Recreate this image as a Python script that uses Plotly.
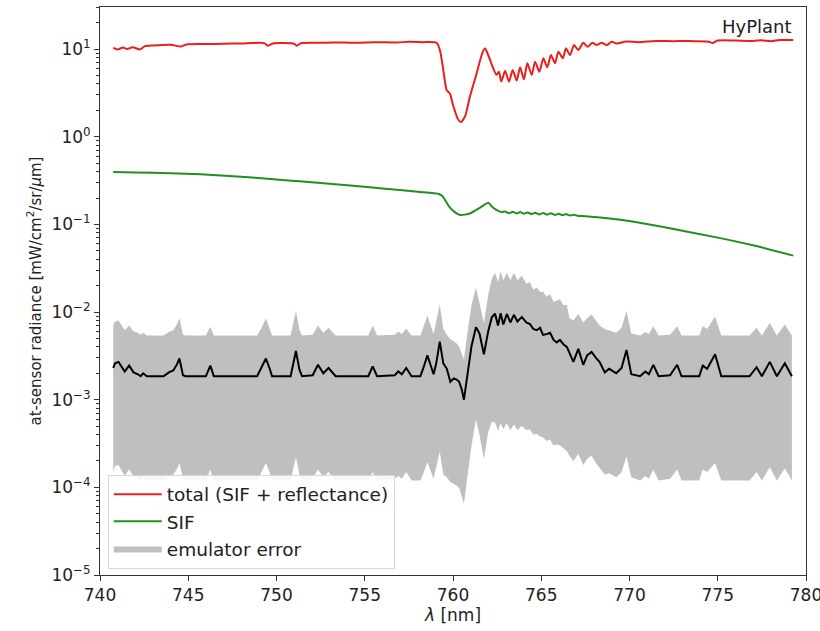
import plotly.graph_objects as go

# ---- total signal (SIF + reflectance) ----
wl_total = [740.75, 741.00, 741.30, 741.55, 741.85, 742.25, 742.55, 743.00, 744.00, 744.60,
            744.90, 746.00, 747.00, 748.00, 749.30, 749.50, 749.80, 751.00, 751.15, 751.40,
            752.50, 753.20, 754.50, 755.50, 756.80, 757.50, 758.30, 759.07, 759.26, 759.45,
            759.64, 759.83, 760.00, 760.30, 760.45, 760.68, 760.96, 761.34, 761.62, 761.81,
            762.00, 762.24, 762.46, 762.60, 762.74, 762.95, 763.17, 763.38, 763.61, 763.80,
            764.02, 764.21, 764.46, 764.65, 764.89, 765.12, 765.34, 765.55, 765.78, 765.97,
            766.22, 766.40, 766.63, 766.86, 767.10, 767.38, 767.63, 767.89, 768.14, 768.42,
            768.71, 768.99, 769.27, 769.80, 770.50, 771.50, 772.50, 773.30, 774.50, 774.70,
            775.00, 776.00, 777.00, 777.50, 778.00, 778.50, 779.28]
total = [10.3, 9.9, 10.4, 10.0, 10.5, 9.9, 10.8, 11.0, 11.2, 10.7,
         11.3, 11.4, 11.5, 11.6, 11.7, 10.9, 11.6, 11.5, 10.9, 11.7,
         11.8, 11.9, 11.8, 12.0, 11.9, 12.1, 12.0, 11.8, 9.7, 5.8,
         3.4, 3.1, 2.3, 1.56, 1.47, 1.70, 2.87, 5.3, 8.5, 10.2,
         8.5, 6.3, 5.1, 5.5, 4.26, 5.66, 4.25, 5.77, 4.37, 6.19,
         4.52, 6.88, 5.07, 7.18, 5.52, 7.84, 6.19, 8.55, 6.88, 9.31,
         7.84, 10.2, 8.55, 11.1, 9.75, 11.8, 10.6, 11.8, 11.1, 11.8,
         11.1, 12.1, 11.6, 12.2, 12.0, 12.4, 12.3, 12.4, 12.1, 11.7,
         12.5, 12.5, 12.4, 12.6, 12.3, 12.7, 12.7]

# ---- SIF ----
wl_sif = [740.75, 742.00, 744.00, 745.70, 748.00, 750.00, 751.30, 754.00, 756.00, 758.00,
          759.20, 759.45, 759.65, 759.83, 760.10, 760.40, 760.96, 761.53, 762.00, 762.20,
          762.46, 762.74, 762.95, 763.17, 763.38, 763.61, 763.80, 764.02, 764.21, 764.46,
          764.65, 764.89, 765.12, 765.34, 765.55, 765.78, 765.97, 766.22, 766.40, 766.63,
          766.86, 767.10, 767.50, 769.50, 770.00, 772.00, 775.00, 777.00, 779.28]
sif = [0.397, 0.392, 0.383, 0.372, 0.350, 0.325, 0.310, 0.280, 0.257, 0.235,
       0.222, 0.205, 0.175, 0.155, 0.138, 0.128, 0.133, 0.155, 0.177, 0.160,
       0.146, 0.138, 0.140, 0.134, 0.139, 0.133, 0.138, 0.132, 0.137, 0.131,
       0.136, 0.130, 0.135, 0.129, 0.134, 0.128, 0.132, 0.127, 0.131, 0.126,
       0.129, 0.125, 0.124, 0.113, 0.109, 0.0925, 0.0706, 0.0577, 0.0440]

# ---- emulator error: median and band ----
wl_err = [740.75, 740.85, 741.05, 741.25, 741.40, 741.65, 741.90, 742.15, 742.30, 742.45,
          742.65, 743.60, 743.90, 744.15, 744.35, 744.50, 744.70, 744.85, 746.00, 746.25,
          746.45, 748.90, 749.15, 749.40, 749.60, 749.75, 750.80, 750.95, 751.10, 751.30,
          751.45, 752.05, 752.35, 752.65, 752.95, 753.35, 755.20, 755.45, 755.70, 756.70,
          756.90, 757.10, 757.35, 757.65, 758.15, 758.35, 758.55, 758.90, 759.05, 759.25,
          759.45, 759.65, 759.85, 760.05, 760.20, 760.35, 760.50, 760.62, 760.85, 761.05,
          761.30, 761.50, 761.75, 762.00, 762.20, 762.38, 762.55, 762.70, 762.85, 763.05,
          763.25, 763.45, 763.65, 763.90, 764.15, 764.36, 764.55, 764.74, 764.93, 765.10,
          765.30, 765.50, 765.70, 765.87, 766.06, 766.25, 766.45, 766.60, 766.82, 767.10,
          767.38, 767.60, 767.85, 768.10, 768.30, 768.60, 768.85, 769.25, 769.55, 769.83,
          770.10, 770.60, 770.90, 771.10, 771.35, 771.65, 772.30, 772.70, 772.95, 773.95,
          774.15, 774.40, 774.85, 775.20, 776.80, 777.20, 777.50, 777.95, 778.35, 778.80,
          779.20]
err_med = [2.3e-3, 2.6e-3, 2.7e-3, 2.3e-3, 2.1e-3, 2.45e-3, 2.05e-3, 1.95e-3, 1.85e-3, 2.0e-3,
           1.85e-3, 1.85e-3, 2.05e-3, 2.15e-3, 2.5e-3, 2.95e-3, 1.9e-3, 1.85e-3, 1.85e-3, 2.45e-3,
           1.85e-3, 1.85e-3, 2.3e-3, 2.95e-3, 2.3e-3, 1.85e-3, 1.85e-3, 2.5e-3, 3.6e-3, 2.2e-3,
           1.85e-3, 1.9e-3, 2.5e-3, 2.0e-3, 2.3e-3, 1.85e-3, 1.85e-3, 2.4e-3, 1.85e-3, 1.9e-3,
           2.1e-3, 1.95e-3, 2.3e-3, 1.85e-3, 1.85e-3, 2.4e-3, 3.2e-3, 1.95e-3, 2.6e-3, 4.6e-3,
           2.6e-3, 2.25e-3, 1.6e-3, 1.75e-3, 1.7e-3, 1.6e-3, 1.3e-3, 1.0e-3, 2.2e-3, 4.1e-3,
           6.7e-3, 5.7e-3, 3.3e-3, 6.1e-3, 8.7e-3, 9.6e-3, 7.0e-3, 9.7e-3, 7.2e-3, 9.5e-3,
           7.6e-3, 9.3e-3, 7.8e-3, 8.8e-3, 7.6e-3, 7.3e-3, 6.4e-3, 6.2e-3, 6.6e-3, 5.5e-3,
           5.6e-3, 5.8e-3, 4.8e-3, 4.5e-3, 4.8e-3, 4.3e-3, 4.0e-3, 3.4e-3, 2.7e-3, 3.8e-3,
           2.5e-3, 3.2e-3, 3.5e-3, 3.0e-3, 2.7e-3, 2.05e-3, 2.25e-3, 2.0e-3, 2.3e-3, 3.7e-3,
           1.95e-3, 1.85e-3, 2.1e-3, 1.95e-3, 2.5e-3, 1.85e-3, 1.9e-3, 2.5e-3, 1.85e-3, 1.85e-3,
           2.45e-3, 2.25e-3, 3.3e-3, 1.85e-3, 1.85e-3, 2.35e-3, 1.85e-3, 2.7e-3, 1.85e-3, 2.6e-3,
           1.85e-3]
err_hi = [7.0e-3, 7.8e-3, 8.0e-3, 6.8e-3, 6.2e-3, 7.0e-3, 6.0e-3, 5.8e-3, 5.5e-3, 5.8e-3,
          5.4e-3, 5.4e-3, 5.9e-3, 6.2e-3, 7.2e-3, 8.5e-3, 5.5e-3, 5.4e-3, 5.4e-3, 6.8e-3,
          5.4e-3, 5.4e-3, 6.6e-3, 8.5e-3, 6.6e-3, 5.4e-3, 5.4e-3, 7.2e-3, 1.03e-2, 6.3e-3,
          5.4e-3, 5.5e-3, 7.0e-3, 5.8e-3, 6.6e-3, 5.4e-3, 5.4e-3, 7.0e-3, 5.4e-3, 5.5e-3,
          6.0e-3, 5.6e-3, 6.5e-3, 5.4e-3, 5.4e-3, 7.0e-3, 9.1e-3, 5.6e-3, 8.0e-3, 1.23e-2,
          6.5e-3, 5.5e-3, 4.9e-3, 4.6e-3, 4.4e-3, 4.0e-3, 3.4e-3, 2.9e-3, 6.5e-3, 1.2e-2,
          1.9e-2, 1.3e-2, 7.5e-3, 1.6e-2, 2.4e-2, 2.8e-2, 2.2e-2, 2.9e-2, 2.3e-2, 2.8e-2,
          2.3e-2, 2.8e-2, 2.3e-2, 2.6e-2, 2.1e-2, 2.2e-2, 1.8e-2, 1.9e-2, 1.7e-2, 1.7e-2,
          1.5e-2, 1.6e-2, 1.3e-2, 1.35e-2, 1.4e-2, 1.2e-2, 1.2e-2, 8.5e-3, 8.0e-3, 9.5e-3,
          7.6e-3, 8.5e-3, 9.4e-3, 8.0e-3, 7.0e-3, 6.4e-3, 6.2e-3, 5.8e-3, 6.6e-3, 1.03e-2,
          5.7e-3, 5.4e-3, 5.9e-3, 5.6e-3, 6.9e-3, 5.4e-3, 5.5e-3, 6.9e-3, 5.4e-3, 5.4e-3,
          6.9e-3, 6.4e-3, 8.9e-3, 5.4e-3, 5.4e-3, 6.6e-3, 5.4e-3, 7.5e-3, 5.4e-3, 7.2e-3,
          5.4e-3]
err_lo = [1.5e-4, 1.75e-4, 1.8e-4, 1.5e-4, 1.35e-4, 1.6e-4, 1.35e-4, 1.3e-4, 1.2e-4, 1.3e-4,
          1.2e-4, 1.2e-4, 1.3e-4, 1.4e-4, 1.6e-4, 1.9e-4, 1.25e-4, 1.2e-4, 1.2e-4, 1.6e-4,
          1.2e-4, 1.2e-4, 1.5e-4, 1.9e-4, 1.5e-4, 1.2e-4, 1.2e-4, 1.6e-4, 2.2e-4, 1.4e-4,
          1.2e-4, 1.25e-4, 1.6e-4, 1.3e-4, 1.5e-4, 1.2e-4, 1.2e-4, 1.5e-4, 1.2e-4, 1.25e-4,
          1.35e-4, 1.25e-4, 1.5e-4, 1.2e-4, 1.2e-4, 1.5e-4, 1.95e-4, 1.25e-4, 1.7e-4, 2.55e-4,
          1.4e-4, 1.3e-4, 1.15e-4, 1.1e-4, 1.05e-4, 9.8e-5, 8.0e-5, 6.5e-5, 1.5e-4, 3.0e-4,
          6.0e-4, 4.0e-4, 2.1e-4, 4.3e-4, 5.6e-4, 5.5e-4, 4.4e-4, 5.4e-4, 4.6e-4, 5.4e-4,
          4.5e-4, 5.2e-4, 4.5e-4, 5.0e-4, 4.5e-4, 4.6e-4, 4.0e-4, 4.1e-4, 3.8e-4, 3.7e-4,
          3.4e-4, 3.5e-4, 3.0e-4, 3.1e-4, 3.0e-4, 2.8e-4, 2.6e-4, 2.3e-4, 2.0e-4, 2.4e-4,
          1.8e-4, 2.1e-4, 2.3e-4, 1.9e-4, 1.7e-4, 1.4e-4, 1.45e-4, 1.3e-4, 1.5e-4, 2.25e-4,
          1.3e-4, 1.2e-4, 1.35e-4, 1.25e-4, 1.6e-4, 1.2e-4, 1.25e-4, 1.6e-4, 1.2e-4, 1.2e-4,
          1.6e-4, 1.5e-4, 1.9e-4, 1.2e-4, 1.2e-4, 1.5e-4, 1.2e-4, 1.7e-4, 1.2e-4, 1.65e-4,
          1.2e-4]

x_ticks = [740, 745, 750, 755, 760, 765, 770, 775, 780]
y_ticks = [1e-5, 1e-4, 1e-3, 1e-2, 1e-1, 1e0, 1e1]
y_ticktext = ["10<sup>\u22125</sup>", "10<sup>\u22124</sup>", "10<sup>\u22123</sup>",
              "10<sup>\u22122</sup>", "10<sup>\u22121</sup>", "10<sup>0</sup>", "10<sup>1</sup>"]

FONT = "DejaVu Sans"
AX = "#333333"

fig = go.Figure()

# grey band: lower edge, then upper edge filled down to it
fig.add_trace(go.Scatter(x=wl_err, y=err_lo, mode="lines", line=dict(width=0, color="#bfbfbf"),
                         showlegend=False, hoverinfo="skip"))
fig.add_trace(go.Scatter(x=wl_err, y=err_hi, mode="lines", line=dict(width=0, color="#bfbfbf"),
                         fill="tonexty", fillcolor="#bfbfbf", name="emulator error",
                         legendrank=3, legendgroup="c"))
fig.add_trace(go.Scatter(x=wl_err, y=err_med, mode="lines", line=dict(width=2, color="black"),
                         showlegend=False))
fig.add_trace(go.Scatter(x=wl_total, y=total, mode="lines",
                         line=dict(width=2, color="#ee1c1c", shape="spline", smoothing=0.6),
                         name="total (SIF + reflectance)", legendrank=1, legendgroup="a"))
fig.add_trace(go.Scatter(x=wl_sif, y=sif, mode="lines",
                         line=dict(width=2, color="#1f901f", shape="spline", smoothing=0.6),
                         name="SIF", legendrank=2, legendgroup="b"))

fig.update_layout(
    width=820, height=631,
    margin=dict(l=100, r=14, t=7, b=56),
    paper_bgcolor="white", plot_bgcolor="white",
    font=dict(family=FONT, size=15, color="#222222"),
    showlegend=True,
    legend=dict(x=0.011, y=0.011, xanchor="left", yanchor="bottom",
                bgcolor="rgba(255,255,255,0.85)", bordercolor="#d8d8d8", borderwidth=1,
                font=dict(size=18.5), traceorder="grouped", tracegroupgap=0, itemwidth=48),
    annotations=[dict(text="HyPlant", xref="paper", yref="paper", x=0.983, y=0.988,
                      xanchor="right", yanchor="top", showarrow=False,
                      font=dict(size=18, color="#222222"))],
)

fig.update_xaxes(range=[740, 780], tickvals=x_ticks, ticks="outside", ticklen=5,
                 tickcolor=AX, showline=True, linecolor=AX, linewidth=1, mirror=True,
                 showgrid=False, zeroline=False, tickfont=dict(size=17),
                 ticklabeloverflow="allow", automargin=False,
                 title=dict(text="<i>\u03bb</i> [nm]", font=dict(size=17), standoff=2))
fig.update_yaxes(type="log", range=[-5, 1.48], tickvals=y_ticks, ticktext=y_ticktext,
                 ticks="outside", ticklen=5, tickcolor=AX, showline=True, linecolor=AX,
                 linewidth=1, mirror=True, showgrid=False, zeroline=False,
                 tickfont=dict(size=17), automargin=False,
                 minor=dict(ticks="outside", ticklen=3, tickcolor=AX, dtick="D1", showgrid=False),
                 title=dict(text="at-sensor radiance [mW/cm<sup>2</sup>/sr/<i>\u03bc</i>m]",
                            font=dict(size=15), standoff=6))

fig.write_html("out.html")
